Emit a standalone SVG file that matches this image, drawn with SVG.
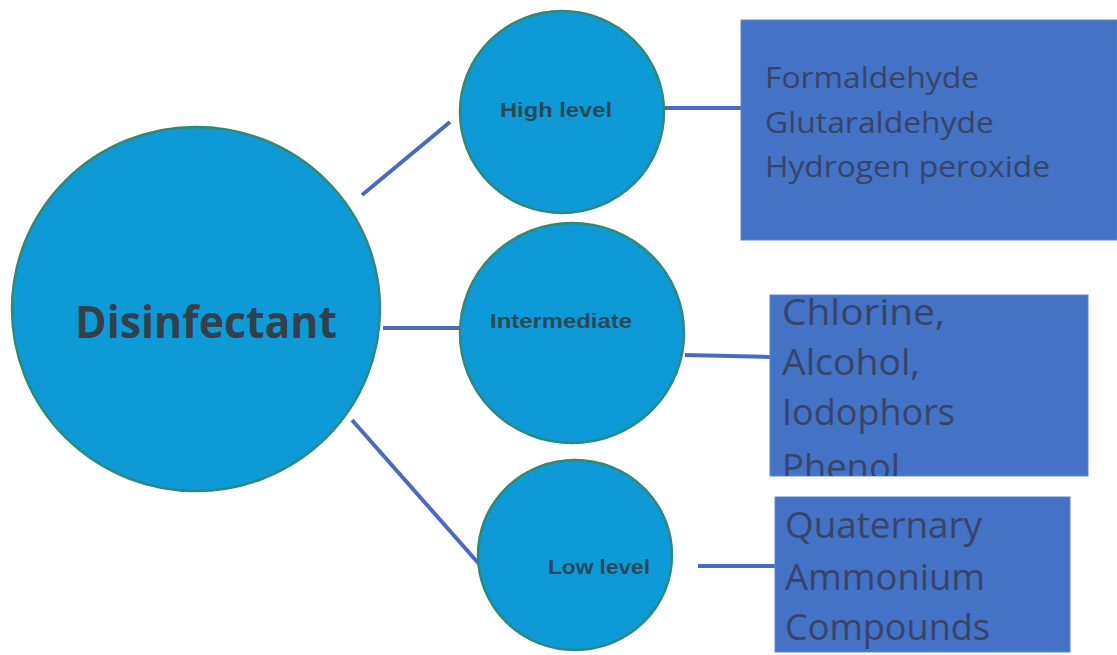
<svg xmlns="http://www.w3.org/2000/svg" width="1117" height="655" viewBox="0 0 1117 655">
<style>
.c{fill:#0e9ad6;stroke:#2e8a78;stroke-width:2.5}
.b{fill:#4472c4;stroke:#5a86d0;stroke-width:1}
.l{stroke:#4a6ac0;stroke-width:4;fill:none}
.t{font-family:"Open Sans","Liberation Sans",sans-serif;fill:#37456a;font-size:30px}
.n{font-family:"Liberation Sans",Arial,sans-serif;font-weight:bold;fill:#28495a;font-size:20px}
</style>
<defs><clipPath id="cp2"><rect x="770" y="295" width="318" height="181"/></clipPath></defs>
<rect width="1117" height="655" fill="#fff"/>
<g id="connectors">
<line class="l" x1="362" y1="195" x2="450" y2="122"/>
<line class="l" x1="383" y1="328" x2="460" y2="328"/>
<line class="l" x1="352" y1="420" x2="480" y2="565"/>
<line class="l" x1="645" y1="108" x2="741" y2="108"/>
<line class="l" x1="685" y1="355" x2="770" y2="357"/>
<line class="l" x1="698" y1="566" x2="775" y2="566"/>
</g>
<g id="disinfectant"><ellipse class="c" cx="196" cy="309" rx="184" ry="182"/>
<text x="75" y="338" font-family="'Open Sans','Liberation Sans',sans-serif" font-weight="bold" font-size="45" fill="#333f4a" textLength="262" lengthAdjust="spacingAndGlyphs">Disinfectant</text></g>
<g id="high"><ellipse class="c" cx="562" cy="112" rx="102" ry="101"/>
<text class="n" x="500" y="117" textLength="112" lengthAdjust="spacingAndGlyphs">High level</text></g>
<g id="intermediate"><ellipse class="c" cx="572" cy="333" rx="112" ry="110"/>
<text class="n" x="490" y="328" textLength="142" lengthAdjust="spacingAndGlyphs">Intermediate</text></g>
<g id="low"><ellipse class="c" cx="575" cy="555" rx="97" ry="95"/>
<text class="n" x="548" y="574" textLength="102" lengthAdjust="spacingAndGlyphs">Low level</text></g>
<g id="box-high"><rect class="b" x="741" y="20" width="376" height="220"/>
<text class="t" x="765" y="88" textLength="214" lengthAdjust="spacingAndGlyphs">Formaldehyde</text>
<text class="t" x="765" y="133" textLength="229" lengthAdjust="spacingAndGlyphs">Glutaraldehyde</text>
<text class="t" x="765" y="177" textLength="285" lengthAdjust="spacingAndGlyphs">Hydrogen peroxide</text></g>
<g id="box-intermediate"><rect class="b" x="770" y="295" width="318" height="181"/>
<g clip-path="url(#cp2)" class="t" style="font-size:36px">
<text x="782" y="325" textLength="163" lengthAdjust="spacingAndGlyphs">Chlorine,</text>
<text x="782" y="375" textLength="138" lengthAdjust="spacingAndGlyphs">Alcohol,</text>
<text x="782" y="425" textLength="173" lengthAdjust="spacingAndGlyphs">Iodophors</text>
<text x="782" y="480" textLength="118" lengthAdjust="spacingAndGlyphs">Phenol</text></g></g>
<g id="box-low"><rect class="b" x="775" y="497" width="295" height="155"/>
<text class="t" x="785" y="538" style="font-size:36px" textLength="197" lengthAdjust="spacingAndGlyphs">Quaternary</text>
<text class="t" x="785" y="590" style="font-size:36px" textLength="200" lengthAdjust="spacingAndGlyphs">Ammonium</text>
<text class="t" x="785" y="640" style="font-size:36px" textLength="205" lengthAdjust="spacingAndGlyphs">Compounds</text></g>
</svg>
